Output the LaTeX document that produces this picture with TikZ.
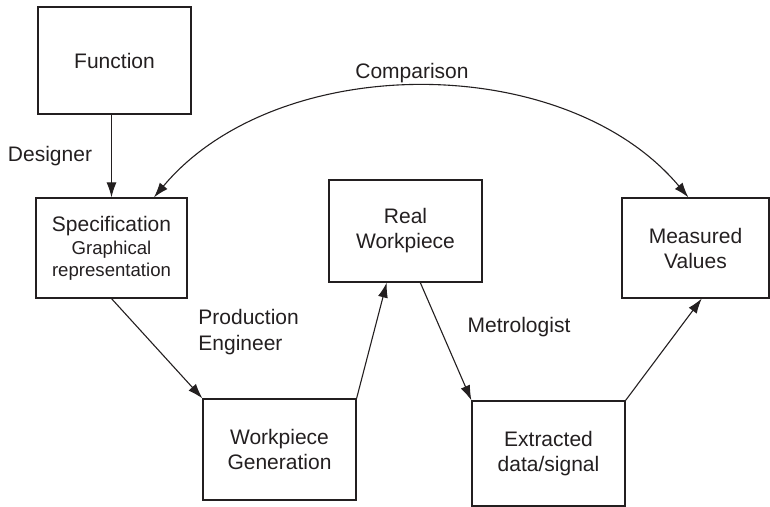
\documentclass[tikz,border=0pt]{standalone}
\usepackage{fontspec}
\setmainfont{Liberation Sans}
\usetikzlibrary{arrows.meta}
\definecolor{diagink}{HTML}{231F20}
\newcommand{\specsmall}{\fontsize{9.3}{9.5}\selectfont}

\begin{document}
\begin{tikzpicture}[
  x=0.5pt, y=-0.5pt,
  box/.style={draw=diagink, line width=0.6pt, minimum width=76.5pt, minimum height=51pt, align=center, font=\fontsize{10.5}{12.5}\selectfont, inner sep=0pt, text=diagink},
  lbl/.style={font=\fontsize{10.5}{13}\selectfont, text=diagink, inner sep=0pt},
  arr/.style={-{Latex[length=7.5pt,width=5pt]}, line width=0.55pt, diagink}
]
\useasboundingbox (0,0) rectangle (770,507);

\node[box, minimum height=53.5pt] (func) at (114.5,60.5) {Function};
\node[box, minimum width=75.5pt, minimum height=50pt] (spec) at (111.5,248) {Specification\\[-1pt]\specsmall Graphical\\[-1.5pt]\specsmall representation};
\node[box] (real) at (405.5,231) {Real\\Workpiece};
\node[box, minimum width=73.5pt, minimum height=50pt] (meas) at (695.5,248) {Measured\\Values};
\node[box, minimum height=50.5pt] (gen) at (279.5,449.5) {Workpiece\\Generation};
\node[box, minimum height=52.5pt] (extr) at (548.5,453.5) {Extracted\\data/signal};

\node[lbl] (designer) at (50,156) {Designer};
\node[lbl, anchor=west, align=left] (prodeng) at (198,332) {Production\\Engineer};
\node[lbl] (metro) at (519,327) {Metrologist};
\node[lbl] (compare) at (412,73) {Comparison};

\draw[arr] (func.south -| spec.north) -- (spec.north);
\draw[arr] (spec.south) -- (gen.north west);
\draw[arr] (gen.north east) -- (real.-110);
\draw[arr] (real.-74) -- (extr.north west);
\draw[arr] (extr.north east) -- (meas.-83);
\draw[arr, {Latex[length=7.5pt,width=5pt]}-{Latex[length=7.5pt,width=5pt]}] (spec.50) .. controls +(123,-147) and +(-123,-147) .. (meas.98);
\end{tikzpicture}
\end{document}
